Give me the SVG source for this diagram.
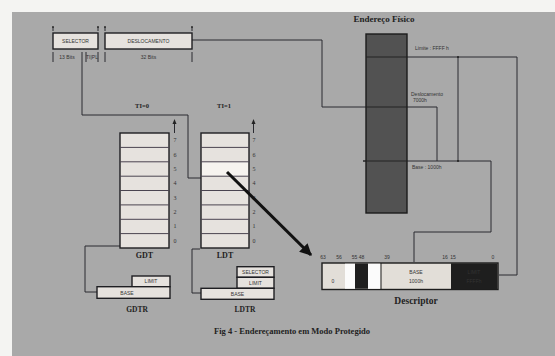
<svg xmlns="http://www.w3.org/2000/svg" width="555" height="356" viewBox="0 0 555 356">
<defs>
<style>
.box{fill:#e6e2de;stroke:#1e1e22;stroke-width:1.4}
.ln{fill:none;stroke:#2a2a30;stroke-width:1}
.t{font-family:"Liberation Serif",serif;font-weight:bold;fill:#222}
.s{font-family:"Liberation Sans",sans-serif;font-size:5px;fill:#333}
.n{font-family:"Liberation Serif",serif;font-size:6px;fill:#333}
.row{stroke:#4a4450;stroke-width:1}
</style>
<marker id="ah" viewBox="0 0 10 10" refX="9" refY="5" markerWidth="4" markerHeight="4" orient="auto"><path d="M0,0 L10,5 L0,10 z" fill="#111"/></marker>
</defs>
<rect x="0" y="0" width="555" height="356" fill="#f4f4f2"/>
<rect x="12" y="12" width="543" height="344" fill="#a9a9a9"/>

<g id="connectors">
<path class="ln" d="M82,62 V115 H188 V178 H201"/>
<path class="ln" d="M192,40 H322 V107 H366"/>
<path class="ln" d="M366,107 H437 V161"/>
<path class="ln" d="M366,57 H517 V275 H499"/>
<path class="ln" d="M458,57 V161"/>
<path class="ln" d="M363,161 H491 V232 H414 V262"/>
<path class="ln" d="M120,246 H85 V292 H97"/>
<path class="ln" d="M200,249 H192 V293 H201"/>
<circle cx="458" cy="57" r="1" fill="#222"/>
<circle cx="458" cy="161" r="1" fill="#222"/>
</g>

<g id="selector">
<rect class="box" x="53" y="33" width="45" height="16"/>
<text class="s" x="75.5" y="43" text-anchor="middle" font-size="5.5">SELECTOR</text>
<path class="ln" d="M53,27 V31 M98,27 V31 M53,52 V62 M82,52 V62 M86,52 V62 M98,52 V62"/>
<circle cx="53" cy="27" r="0.9" fill="#222"/><circle cx="98" cy="27" r="0.9" fill="#222"/>
<text class="s" x="67" y="59" text-anchor="middle">13 Bits</text>
<text class="s" x="92" y="59" text-anchor="middle">TI|PL</text>
</g>

<g id="deslocamento">
<rect class="box" x="105" y="33" width="87" height="16"/>
<text class="s" x="148.5" y="43" text-anchor="middle" font-size="5.5">DESLOCAMENTO</text>
<path class="ln" d="M105,27 V31 M192,27 V31 M105,52 V62 M192,52 V62"/>
<circle cx="105" cy="27" r="0.9" fill="#222"/><circle cx="192" cy="27" r="0.9" fill="#222"/>
<text class="s" x="148.5" y="59" text-anchor="middle">32 Bits</text>
</g>

<g id="labels-ti">
<text class="t" x="142" y="108" font-size="6.5" text-anchor="middle">TI=0</text>
<text class="t" x="224" y="108" font-size="6.5" text-anchor="middle">TI=1</text>
</g>

<g id="gdt">
<rect class="box" x="120" y="133" width="49" height="115"/>
<g class="row">
<line x1="120" y1="147.4" x2="169" y2="147.4"/><line x1="120" y1="161.8" x2="169" y2="161.8"/>
<line x1="120" y1="176.2" x2="169" y2="176.2"/><line x1="120" y1="190.5" x2="169" y2="190.5"/>
<line x1="120" y1="204.9" x2="169" y2="204.9"/><line x1="120" y1="219.3" x2="169" y2="219.3"/>
<line x1="120" y1="233.6" x2="169" y2="233.6"/>
</g>
<path class="ln" d="M174.5,133 V121" stroke-width="1.5"/>
<path d="M172.5,124 L174.5,119 L176.5,124 z" fill="#222"/>
<g class="n" text-anchor="middle">
<text x="175" y="142">7</text><text x="175" y="156.5">6</text><text x="175" y="171">5</text><text x="175" y="185">4</text>
<text x="175" y="199.5">3</text><text x="175" y="214">2</text><text x="175" y="228">1</text><text x="175" y="243">0</text>
</g>
<text class="t" x="144.5" y="258" font-size="8" text-anchor="middle">GDT</text>
</g>

<g id="ldt">
<rect class="box" x="201" y="133" width="48" height="115"/>
<rect x="202" y="162" width="46" height="14" fill="#f6f3ef"/>
<g class="row">
<line x1="201" y1="147.4" x2="249" y2="147.4"/><line x1="201" y1="161.8" x2="249" y2="161.8"/>
<line x1="201" y1="176.2" x2="249" y2="176.2"/><line x1="201" y1="190.5" x2="249" y2="190.5"/>
<line x1="201" y1="204.9" x2="249" y2="204.9"/><line x1="201" y1="219.3" x2="249" y2="219.3"/>
<line x1="201" y1="233.6" x2="249" y2="233.6"/>
</g>
<path class="ln" d="M253.5,133 V121" stroke-width="1.5"/>
<path d="M251.5,124 L253.5,119 L255.5,124 z" fill="#222"/>
<g class="n" text-anchor="middle">
<text x="254" y="142">7</text><text x="254" y="156.5">6</text><text x="254" y="171">5</text><text x="254" y="185">4</text>
<text x="254" y="199.5">3</text><text x="254" y="214">2</text><text x="254" y="228">1</text><text x="254" y="243">0</text>
</g>
<text class="t" x="225" y="258" font-size="8" text-anchor="middle">LDT</text>
</g>

<g id="gdtr">
<rect class="box" x="132" y="276" width="38" height="10.7"/>
<rect class="box" x="97" y="286.7" width="73" height="11.6"/>
<text class="s" x="151" y="283.3" text-anchor="middle">LIMIT</text>
<text class="s" x="127" y="294.5" text-anchor="middle">BASE</text>
<text class="t" x="137" y="312" font-size="7.5" text-anchor="middle">GDTR</text>
</g>

<g id="ldtr">
<rect class="box" x="237" y="266.7" width="37" height="10.6"/>
<rect class="box" x="237" y="277.3" width="37" height="11"/>
<rect class="box" x="201" y="288.3" width="73" height="11"/>
<text class="s" x="255.5" y="273.8" text-anchor="middle">SELECTOR</text>
<text class="s" x="255.5" y="284.6" text-anchor="middle">LIMIT</text>
<text class="s" x="237.5" y="295.8" text-anchor="middle">BASE</text>
<text class="t" x="245" y="312" font-size="7.5" text-anchor="middle">LDTR</text>
</g>

<g id="endereco-fisico">
<text class="t" x="384" y="22" font-size="9" text-anchor="middle">Endereço Físico</text>
<rect x="366" y="34" width="41" height="179" fill="#525252" stroke="#1c1c1c" stroke-width="1.4"/>
<line x1="366" y1="57" x2="407" y2="57" stroke="#222" stroke-width="1"/>
<line x1="366" y1="107" x2="407" y2="107" stroke="#222" stroke-width="1"/>
<line x1="363" y1="161" x2="407" y2="161" stroke="#222" stroke-width="1"/>
<text class="s" x="415" y="50" font-size="6">Limite : FFFF h</text>
<text class="s" x="411" y="96" font-size="6">Deslocamento</text>
<text class="s" x="413" y="102" font-size="6">7000h</text>
<text class="s" x="412" y="169" font-size="6">Base : 1000h</text>
</g>

<g id="descriptor">
<rect x="322" y="263" width="176" height="26.5" fill="#e2ded8" stroke="#1c1c1c" stroke-width="1.4"/>
<rect x="345" y="263.7" width="10" height="25" fill="#fbfbfb"/>
<rect x="355" y="263.7" width="13" height="25" fill="#1f1f1f"/>
<rect x="368" y="263.7" width="12.5" height="25" fill="#fbfbfb"/>
<line x1="381" y1="263" x2="381" y2="289.5" stroke="#1c1c1c" stroke-width="1"/>
<rect x="451" y="263.3" width="46.5" height="25.8" fill="#1e1e1e"/>
<text class="s" x="333" y="283" text-anchor="middle">0</text>
<text class="s" x="416" y="273.5" text-anchor="middle">BASE</text>
<text class="s" x="416" y="282.5" text-anchor="middle">1000h</text>
<text class="s" x="474" y="273.5" text-anchor="middle" fill="#6a6a6a">LIMIT</text>
<text class="s" x="474" y="282.5" text-anchor="middle" fill="#6a6a6a">FFFFh</text>
<g class="s" text-anchor="middle" font-size="4.5">
<text x="323" y="259">63</text><text x="339" y="259">56</text><text x="358" y="259">55 48</text>
<text x="387" y="259">39</text><text x="445" y="259">16</text><text x="453" y="259">15</text><text x="493" y="259">0</text>
</g>
<text class="t" x="416" y="304" font-size="9.5" text-anchor="middle">Descriptor</text>
</g>

<g id="pointer">
<line x1="227" y1="172" x2="311" y2="255" stroke="#111" stroke-width="3" marker-end="url(#ah)"/>
</g>

<text class="t" x="292" y="334" font-size="8.5" text-anchor="middle">Fig 4 - Endereçamento em Modo Protegido</text>
</svg>
